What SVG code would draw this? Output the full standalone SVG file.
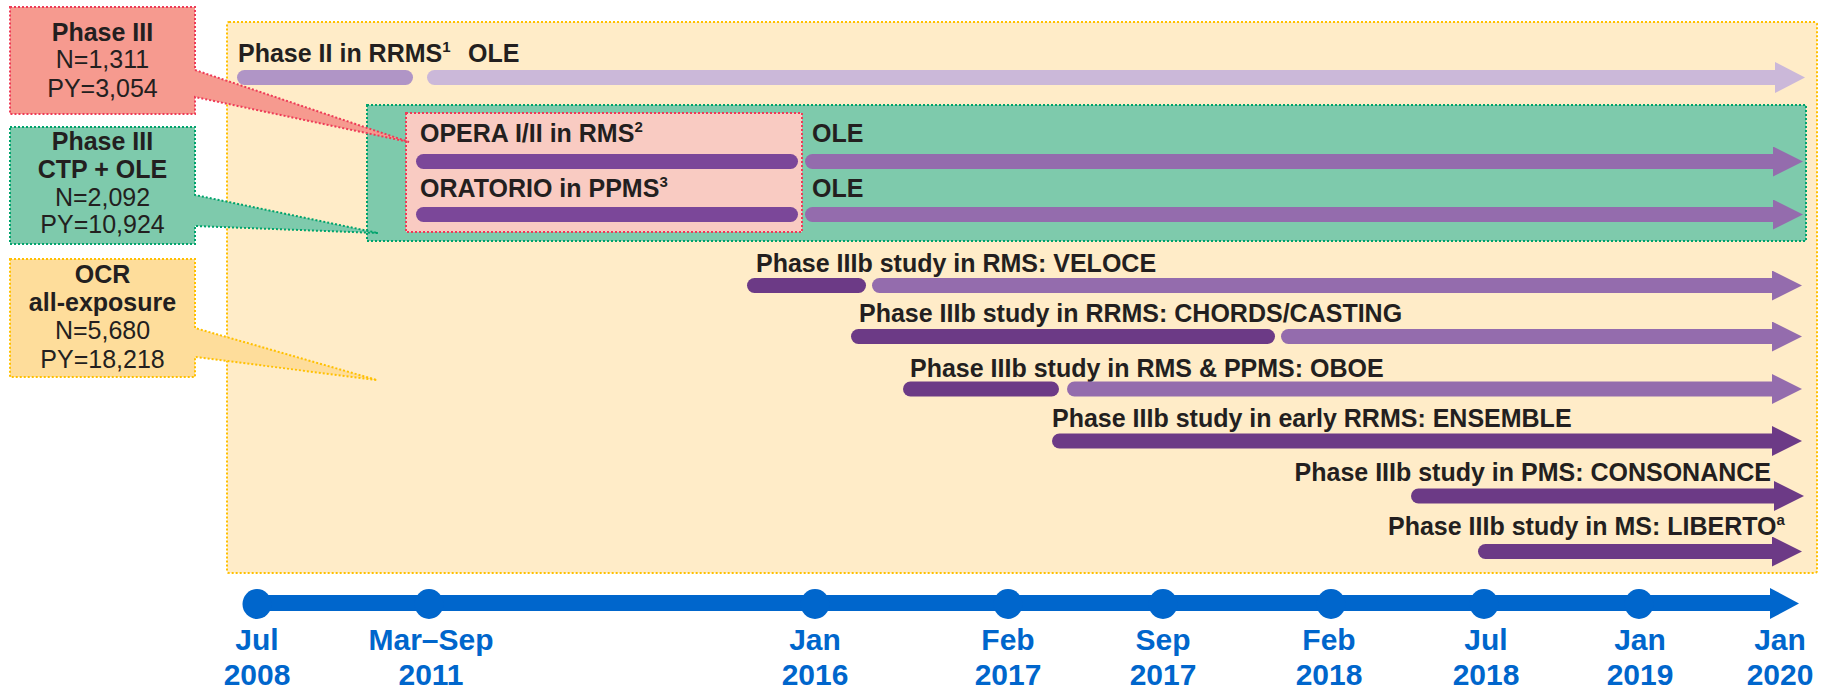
<svg xmlns="http://www.w3.org/2000/svg" width="1823" height="688" viewBox="0 0 1823 688">
<style>
.t{font-family:"Liberation Sans",Arial,sans-serif;font-size:25px;fill:#231F20}
.b{font-weight:bold}
.c{text-anchor:middle}
.e{text-anchor:end}
.tl{font-family:"Liberation Sans",Arial,sans-serif;font-size:30px;font-weight:bold;fill:#0066CC;text-anchor:middle}
.bar{stroke-width:15;stroke-linecap:round;fill:none}
.dot{stroke-width:2;stroke-dasharray:2 2}
.light{stroke:#CBB8D9}
.pale{stroke:#B095C6}
.mid{stroke:#946CAD}
.dark{stroke:#6C3A86}
.opera{stroke:#7B4799}
</style>
<defs>
<marker id="ahLight" markerUnits="userSpaceOnUse" markerWidth="30" markerHeight="31" viewBox="0 0 30 31" refX="0" refY="15.5" orient="auto"><path d="M0,0 L30,15.5 L0,31 Z" fill="#CBB8D9"/></marker>
<marker id="ahMid" markerUnits="userSpaceOnUse" markerWidth="30" markerHeight="30" viewBox="0 0 30 30" refX="0" refY="15" orient="auto"><path d="M0,0 L30,15 L0,30 Z" fill="#946CAD"/></marker>
<marker id="ahDark" markerUnits="userSpaceOnUse" markerWidth="30" markerHeight="30" viewBox="0 0 30 30" refX="0" refY="15" orient="auto"><path d="M0,0 L30,15 L0,30 Z" fill="#6C3A86"/></marker>
</defs>

<g id="frame-ocr">
<rect x="227" y="22" width="1590" height="551" rx="2" fill="#FFECC8" stroke="#FFC000" class="dot"/>
</g>
<g id="frame-ctp">
<rect x="367" y="105" width="1439" height="136" fill="#7ECAAC" stroke="#00A36C" class="dot"/>
</g>
<g id="frame-phase3">
<rect x="406" y="113" width="396" height="119" fill="#F9CBC2" stroke="#EE3B57" class="dot"/>
</g>

<g id="callout-phase3">
<path d="M10,7 H195 V70 L409,142 L195,97 V114 H10 Z" fill="#F69A8F" stroke="#EE3B57" class="dot"/>
<text class="t b c" x="102.5" y="41">Phase III</text>
<text class="t c" x="102.5" y="68">N=1,311</text>
<text class="t c" x="102.5" y="97">PY=3,054</text>
</g>
<g id="callout-ctp">
<path d="M10,127 H195 V195 L378,233 L195,226 V244 H10 Z" fill="#7ECAAC" stroke="#00A36C" class="dot"/>
<text class="t b c" x="102.5" y="150">Phase III</text>
<text class="t b c" x="102.5" y="178">CTP + OLE</text>
<text class="t c" x="102.5" y="206">N=2,092</text>
<text class="t c" x="102.5" y="233">PY=10,924</text>
</g>
<g id="callout-ocr">
<path d="M10,259 H195 V328 L377,380 L195,357 V377 H10 Z" fill="#FEDD9B" stroke="#FFC000" class="dot"/>
<text class="t b c" x="102.5" y="283">OCR</text>
<text class="t b c" x="102.5" y="311">all-exposure</text>
<text class="t c" x="102.5" y="339">N=5,680</text>
<text class="t c" x="102.5" y="368">PY=18,218</text>
</g>

<g id="row-phase2">
<text class="t b" x="238" y="62">Phase II in RRMS<tspan font-size="15" dy="-10">1</tspan></text>
<text class="t b" x="468" y="62">OLE</text>
</g>
<g id="row-opera">
<text class="t b" x="420" y="142">OPERA I/II in RMS<tspan font-size="15" dy="-10">2</tspan></text>
<text class="t b" x="812" y="142">OLE</text>
</g>
<g id="row-oratorio">
<text class="t b" x="420" y="197">ORATORIO in PPMS<tspan font-size="15" dy="-10">3</tspan></text>
<text class="t b" x="812" y="197">OLE</text>
</g>
<g id="row-veloce">
<text class="t b" x="756" y="272">Phase IIIb study in RMS: VELOCE</text>
</g>
<g id="row-chords">
<text class="t b" x="859" y="322">Phase IIIb study in RRMS: CHORDS/CASTING</text>
</g>
<g id="row-oboe">
<text class="t b" x="910" y="377">Phase IIIb study in RMS &amp; PPMS: OBOE</text>
</g>
<g id="row-ensemble">
<text class="t b" x="1052" y="427">Phase IIIb study in early RRMS: ENSEMBLE</text>
</g>
<g id="row-consonance">
<text class="t b e" x="1771" y="481">Phase IIIb study in PMS: CONSONANCE</text>
</g>
<g id="row-liberto">
<text class="t b" x="1388" y="535">Phase IIIb study in MS: LIBERTO<tspan font-size="15" dy="-10">a</tspan></text>
</g>

<g id="connectors">
<line class="bar pale" x1="244.5" y1="77.5" x2="405.5" y2="77.5"/>
<line class="bar light" x1="434.5" y1="77.5" x2="1775" y2="77.5" marker-end="url(#ahLight)"/>
<line class="bar opera" x1="423.5" y1="161.5" x2="790.5" y2="161.5"/>
<line class="bar mid" x1="812.5" y1="161.5" x2="1773" y2="161.5" marker-end="url(#ahMid)"/>
<line class="bar opera" x1="423.5" y1="214.5" x2="790.5" y2="214.5"/>
<line class="bar mid" x1="812.5" y1="214.5" x2="1773" y2="214.5" marker-end="url(#ahMid)"/>
<line class="bar dark" x1="754.5" y1="285.5" x2="858.5" y2="285.5"/>
<line class="bar mid" x1="879.5" y1="285.5" x2="1772" y2="285.5" marker-end="url(#ahMid)"/>
<line class="bar dark" x1="858.5" y1="336.5" x2="1267.5" y2="336.5"/>
<line class="bar mid" x1="1288.5" y1="336.5" x2="1772" y2="336.5" marker-end="url(#ahMid)"/>
<line class="bar dark" x1="910.5" y1="389" x2="1051.5" y2="389"/>
<line class="bar mid" x1="1074.5" y1="389" x2="1772" y2="389" marker-end="url(#ahMid)"/>
<line class="bar dark" x1="1059.5" y1="441" x2="1772" y2="441" marker-end="url(#ahDark)"/>
<line class="bar dark" x1="1418.5" y1="496" x2="1774" y2="496" marker-end="url(#ahDark)"/>
<line class="bar dark" x1="1485.5" y1="551.5" x2="1772" y2="551.5" marker-end="url(#ahDark)"/>
</g>

<g id="timeline">
<line x1="257" y1="603" x2="1772" y2="603" stroke="#0066CC" stroke-width="16"/>
<path d="M1770,588 L1799,603.5 L1770,619 Z" fill="#0066CC"/>
<g fill="#0066CC">
<ellipse cx="257" cy="604" rx="14.5" ry="15"/>
<ellipse cx="429" cy="604" rx="14.5" ry="15"/>
<ellipse cx="815" cy="604" rx="14.5" ry="15"/>
<ellipse cx="1008" cy="604" rx="14.5" ry="15"/>
<ellipse cx="1163" cy="604" rx="14.5" ry="15"/>
<ellipse cx="1331" cy="604" rx="14.5" ry="15"/>
<ellipse cx="1484" cy="604" rx="14.5" ry="15"/>
<ellipse cx="1639" cy="604" rx="14.5" ry="15"/>
</g>
<text class="tl" x="257" y="650">Jul</text><text class="tl" x="257" y="685">2008</text>
<text class="tl" x="431" y="650">Mar–Sep</text><text class="tl" x="431" y="685">2011</text>
<text class="tl" x="815" y="650">Jan</text><text class="tl" x="815" y="685">2016</text>
<text class="tl" x="1008" y="650">Feb</text><text class="tl" x="1008" y="685">2017</text>
<text class="tl" x="1163" y="650">Sep</text><text class="tl" x="1163" y="685">2017</text>
<text class="tl" x="1329" y="650">Feb</text><text class="tl" x="1329" y="685">2018</text>
<text class="tl" x="1486" y="650">Jul</text><text class="tl" x="1486" y="685">2018</text>
<text class="tl" x="1640" y="650">Jan</text><text class="tl" x="1640" y="685">2019</text>
<text class="tl" x="1780" y="650">Jan</text><text class="tl" x="1780" y="685">2020</text>
</g>
</svg>
